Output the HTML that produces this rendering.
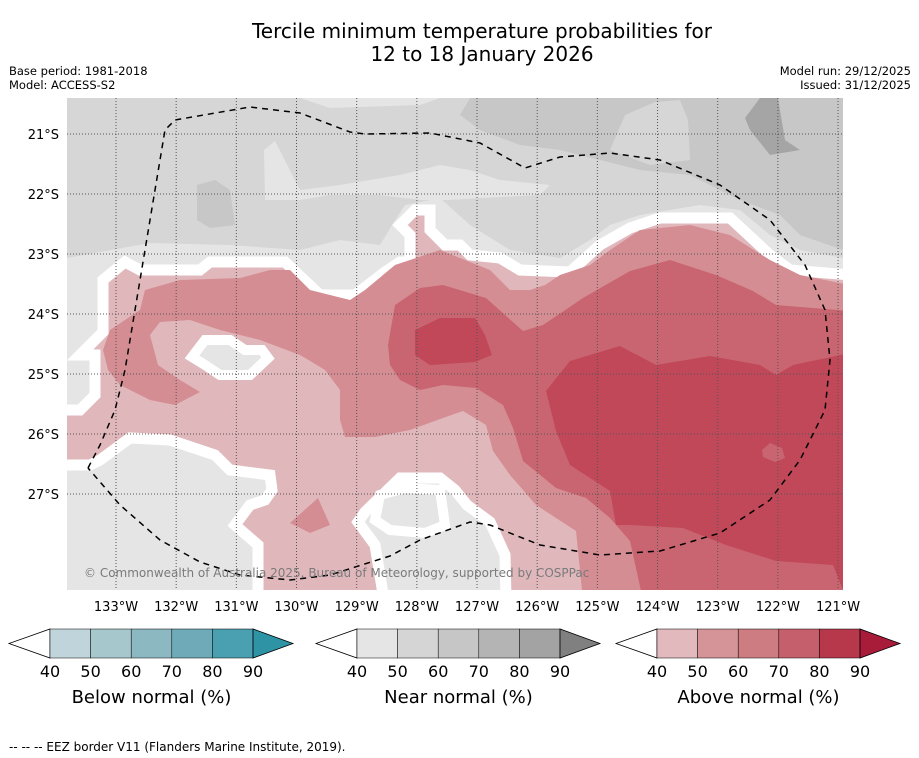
<!DOCTYPE html>
<html><head><meta charset="utf-8"><style>
body{margin:0;background:#fff;width:919px;height:758px;overflow:hidden;font-family:"DejaVu Sans","Liberation Sans",sans-serif}
svg{display:block}
</style></head><body>
<svg id="chart" width="919" height="758" viewBox="0 0 919 758" xmlns="http://www.w3.org/2000/svg" font-family="DejaVu Sans, Liberation Sans, sans-serif">
<text x="482" y="38" font-size="20" text-anchor="middle">Tercile minimum temperature probabilities for</text>
<text x="482" y="61" font-size="20" text-anchor="middle">12 to 18 January 2026</text>
<text x="9" y="75" font-size="11.5">Base period: 1981-2018</text>
<text x="9" y="89" font-size="11.5">Model: ACCESS-S2</text>
<text x="911" y="75" font-size="11.5" text-anchor="end">Model run: 29/12/2025</text>
<text x="911" y="89" font-size="11.5" text-anchor="end">Issued: 31/12/2025</text>
<defs><clipPath id="mc"><rect x="67" y="98" width="776" height="492"/></clipPath></defs>
<g clip-path="url(#mc)">
<rect x="67" y="98" width="776" height="492" fill="#d6d6d6"/>
<polygon fill="#e5e5e5" points="264,150 275,141 300,190 340,185 400,175 440,165 470,170 500,180 550,185 540,195 480,198 450,200 420,200 380,195 330,195 300,200 265,200"/>
<polygon fill="#e5e5e5" points="300,98 440,98 420,105 330,108"/>
<polygon fill="#c7c7c7" points="470,98 843,98 843,250 800,235 780,215 740,200 690,175 640,170 600,160 560,150 520,145 480,130 460,115"/>
<polygon fill="#d6d6d6" points="610,150 625,115 655,102 680,100 688,120 690,160 650,165"/>
<polygon fill="#c7c7c7" points="197,185 215,180 230,190 235,225 210,228 197,220"/>
<polygon fill="#a5a5a5" points="760,98 778,98 785,140 800,150 770,155 750,130 745,118"/>
<polygon fill="#e5e5e5" points="67,590 67,258 150,243 230,245 300,250 340,240 380,245 392,225 405,205 440,198 470,225 510,250 560,258 590,240 610,225 640,215 700,205 740,210 770,235 800,250 843,258 843,590"/>
<polygon fill="#e0b8bc" stroke="#fff" stroke-width="11" points="67,410 80,410 95,395 95,355 80,355 95,340 103,332 103,280 125,262 140,270 200,270 210,262 285,262 320,295 355,295 385,272 400,262 410,262 410,235 400,225 415,210 430,210 430,230 445,245 460,245 470,255 500,258 520,270 570,272 600,245 630,228 660,218 730,218 770,255 790,270 850,275 850,600 506,600 505,555 490,522 467,505 455,490 440,478 400,478 365,512 358,522 375,545 384,600 258,600 258,545 235,525 250,505 265,500 272,490 270,475 230,470 215,455 170,440 130,438 100,460 90,465 60,465 60,410"/>
<polygon fill="#e5e5e5" stroke="#fff" stroke-width="10" points="380,495 405,488 440,490 445,525 425,533 390,530 375,520"/>
<polygon fill="#d58d94" points="108,370 103,350 110,330 140,310 145,290 180,280 240,278 270,270 290,270 310,290 330,295 350,300 365,290 395,265 425,255 440,250 465,260 490,270 510,290 530,290 545,285 560,275 590,265 610,250 640,230 690,225 730,235 770,260 800,275 850,285 850,600 583,600 576,531 536,505 510,475 493,451 486,425 463,411 443,418 410,430 375,437 345,437 340,420 340,390 325,370 300,355 260,340 220,330 190,320 160,322 150,335 158,365 180,380 200,392 175,405 150,400 120,385"/>
<polygon fill="#d58d94" points="318,498 330,525 310,533 290,523"/>
<polygon fill="#c96570" points="390,365 388,345 395,305 420,288 443,285 486,298 523,331 543,325 583,298 630,271 670,260 716,275 753,291 776,305 850,311 850,600 643,600 630,541 610,518 586,498 556,488 523,461 513,428 503,405 476,388 443,385 420,390 400,380"/>
<polygon fill="#c04858" points="415,330 440,318 475,318 485,335 492,355 475,362 430,365 415,355"/>
<polygon fill="#c04858" points="546,391 570,361 620,346 656,365 710,356 760,365 776,375 793,365 850,353 850,600 843,590 833,565 776,561 726,545 683,528 630,525 616,525 610,491 570,465 556,431"/>
<polygon fill="#c96570" points="762,450 770,443 782,448 785,458 775,462 763,457"/>
<polygon fill="#e5e5e5" stroke="#fff" stroke-width="10" points="205,340 230,340 245,350 262,350 268,358 250,375 220,375 205,365 192,357"/>
<g id="grid"></g>
<path fill="none" stroke="#000" stroke-width="1.5" stroke-dasharray="6,5" d="M88,468 L100,445 115,410 125,370 135,310 145,250 155,190 165,130 175,120 250,107 300,113 350,132 365,134 430,133 480,143 525,168 560,157 610,153 660,160 720,185 770,220 805,265 825,310 830,360 825,410 800,460 770,500 720,533 660,551 600,555 540,545 490,525 470,522 420,540 390,556 330,575 290,580 240,575 200,562 160,540 120,505 88,468"/>
<text x="84" y="577" font-size="12" fill="#7a7a7a">© Commonwealth of Australia 2025, Bureau of Meteorology, supported by COSPPac</text>
</g>
<g id="axes"></g>
<g id="cbars"></g>
<text x="9" y="751" font-size="12">--  --  -- EEZ border V11 (Flanders Marine Institute, 2019).</text>
</svg>
<script>
const lonLabels=["133°W","132°W","131°W","130°W","129°W","128°W","127°W","126°W","125°W","124°W","123°W","122°W","121°W"];
const lonValues=[133,132,131,130,129,128,127,126,125,124,123,122,121];
const latLabels=["21°S","22°S","23°S","24°S","25°S","26°S","27°S"];
const latValues=[21,22,23,24,25,26,27];
const cbTicks=[40,50,60,70,80,90];
const cbTitles=["Below normal (%)","Near normal (%)","Above normal (%)"];
const cbBelow=["#bfd5db","#a6c8cd","#8cb8c2","#6eaab8","#4aa0b0","#2f93a6"];
const cbNear=["#e5e5e5","#d5d5d5","#c6c6c6","#b4b4b4","#a3a3a3","#808080"];
const cbAbove=["#e2b9bd","#d59498","#cd7c82","#c55f6b","#b7384b","#a81c3a"];
const NS="http://www.w3.org/2000/svg";
const xLon=v=>116+(133-v)*60.17;
const yLat=v=>134+(v-21)*60;
function mk(t,a,p){const e=document.createElementNS(NS,t);for(const k in a)e.setAttribute(k,a[k]);p.appendChild(e);return e;}
const grid=document.getElementById('grid'),axes=document.getElementById('axes');
lonValues.forEach((v,i)=>{
 const l=mk('line',{x1:xLon(v),x2:xLon(v),y1:98,y2:590,stroke:'#555','stroke-width':1,'stroke-dasharray':'1,2'},grid);
 
 
 const t=mk('text',{x:xLon(v),y:611,'font-size':13,'text-anchor':'middle'},axes);t.textContent=lonLabels[i];
 
 
});
latValues.forEach((v,i)=>{
 const l=mk('line',{x1:67,x2:843,y1:yLat(v),y2:yLat(v),stroke:'#555','stroke-width':1,'stroke-dasharray':'1,2'},grid);
 
 
 const t=mk('text',{x:59,y:yLat(v)+5,'font-size':13,'text-anchor':'end'},axes);t.textContent=latLabels[i];
 
 
});
const cb=document.getElementById('cbars');
[[50,cbBelow],[357,cbNear],[657,cbAbove]].forEach(([x0,cols],ci)=>{
 const w=40.6,y0=629,h=29;
 const lt=mk('polygon',{points:`${x0},${y0} ${x0},${y0+h} ${x0-41},${y0+h/2}`,fill:'#fff',stroke:'#000','stroke-width':0.8},cb);
 
 
 for(let k=0;k<5;k++){const r=mk('rect',{x:x0+k*w,y:y0,width:w,height:h,fill:cols[k],stroke:'#000','stroke-width':0.5},cb);
  
  }
 const xe=x0+5*w;
 const rt=mk('polygon',{points:`${xe},${y0} ${xe},${y0+h} ${xe+40},${y0+h/2}`,fill:cols[5],stroke:'#000','stroke-width':0.8},cb);
 
 
 cbTicks.forEach((tv,k)=>{const t=mk('text',{x:x0+k*w,y:677,'font-size':16,'text-anchor':'middle'},cb);t.textContent=tv;
  
  });
 const tt=mk('text',{x:x0+2.5*w,y:703,'font-size':18,'text-anchor':'middle'},cb);tt.textContent=cbTitles[ci];
 
 
});
</script>
</body></html>
